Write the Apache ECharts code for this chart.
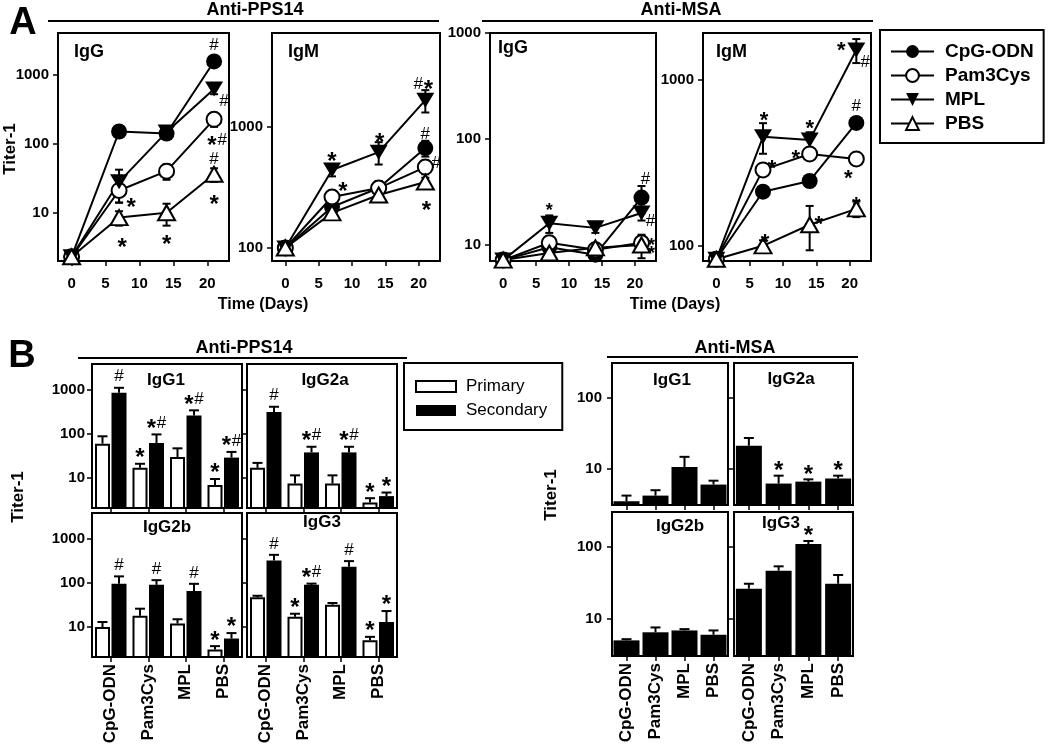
<!DOCTYPE html>
<html>
<head>
<meta charset="utf-8">
<script src="https://cdn.jsdelivr.net/npm/echarts@6.0.0/dist/echarts.min.js"></script>
<style>
html,body{margin:0;padding:0;background:#fff;}
#chart{width:1050px;height:749px;}
</style>
</head>
<body>
<div id="chart"></div>
<script>
// ===================== DATA =====================
const days = [0, 7, 14, 21];
const dayTicks = [0, 5, 10, 15, 20];
const adjuvants = ['CpG-ODN', 'Pam3Cys', 'MPL', 'PBS'];
const logTicks = [10, 100, 1000];

// ---- Panel A: Anti-PPS14 IgG (mean titer, SEM) ----
const ppsIgG_CpG = [2.3, 150, 140, 1550];
const ppsIgG_CpG_sem = [0, 20, 20, 250];
const ppsIgG_Pam = [2.3, 21, 40, 225];
const ppsIgG_Pam_sem = [0, 7, 10, 50];
const ppsIgG_MPL = [2.3, 28, 147, 620];
const ppsIgG_MPL_sem = [0, 14, 20, 100];
const ppsIgG_PBS = [2.3, 8.5, 10, 36];
const ppsIgG_PBS_sem = [0, 2, 3.5, 8];
const ppsIgG_marks = [['CpG-ODN',3,'#'],['MPL',3,'#'],['Pam3Cys',3,'*#'],['PBS',3,'#'],['PBS',3,'*'],['Pam3Cys',1,'*'],['PBS',1,'*'],['PBS',2,'*']];

// ---- Panel A: Anti-PPS14 IgM ----
const ppsIgM_CpG = [100, 218, 313, 670];
const ppsIgM_CpG_sem = [0, 20, 30, 100];
const ppsIgM_Pam = [100, 264, 313, 467];
const ppsIgM_Pam_sem = [0, 25, 45, 60];
const ppsIgM_MPL = [100, 441, 620, 1670];
const ppsIgM_MPL_sem = [0, 50, 130, 350];
const ppsIgM_PBS = [100, 195, 274, 351];
const ppsIgM_PBS_sem = [0, 20, 20, 30];
const ppsIgM_marks = [['MPL',3,'#*'],['CpG-ODN',3,'#'],['Pam3Cys',3,'#'],['PBS',3,'*'],['MPL',1,'*'],['MPL',2,'*'],['Pam3Cys',1,'*']];

// ---- Panel A: Anti-MSA IgG ----
const msaIgG_CpG = [7.2, 9.5, 8.1, 28];
const msaIgG_CpG_sem = [0, 1, 0.8, 8];
const msaIgG_Pam = [7.2, 10.5, 9, 10.5];
const msaIgG_Pam_sem = [0, 1.5, 1, 1.5];
const msaIgG_MPL = [7.2, 16, 14.5, 20];
const msaIgG_MPL_sem = [0, 3, 1.5, 3];
const msaIgG_PBS = [7.2, 8.4, 9.4, 10];
const msaIgG_PBS_sem = [0, 1, 1, 2.5];
const msaIgG_marks = [['MPL',1,'*'],['CpG-ODN',3,'#'],['MPL',3,'#'],['Pam3Cys',3,'*'],['PBS',3,'*']];

// ---- Panel A: Anti-MSA IgM ----
const msaIgM_CpG = [83, 212, 246, 551];
const msaIgM_CpG_sem = [0, 15, 20, 40];
const msaIgM_Pam = [83, 287, 358, 334];
const msaIgM_Pam_sem = [0, 20, 25, 25];
const msaIgM_MPL = [83, 454, 434, 1515];
const msaIgM_MPL_sem = [0, 95, 50, 250];
const msaIgM_PBS = [83, 100, 134, 167];
const msaIgM_PBS_sem = [0, 8, 40, 18];
const msaIgM_marks = [['MPL',1,'*'],['MPL',2,'*'],['MPL',3,'*'],['MPL',3,'#'],['CpG-ODN',3,'#'],['Pam3Cys',1,'*'],['Pam3Cys',2,'*'],['Pam3Cys',3,'*'],['PBS',1,'*'],['PBS',2,'*'],['PBS',3,'*']];

// ---- Panel B: Anti-PPS14 subclasses (primary / secondary) ----
const ppsIgG1_pri = [60, 17, 30, 7];
const ppsIgG1_priSem = [28, 4, 17, 2.5];
const ppsIgG1_sec = [850, 62, 260, 29];
const ppsIgG1_secSem = [250, 35, 80, 10];
const ppsIgG1_priMarks = ['', '*', '', '*'];
const ppsIgG1_secMarks = ['#', '*#', '*#', '*#'];

const ppsIgG2a_pri = [17, 7.5, 7.5, 2.8];
const ppsIgG2a_priSem = [5, 4, 4, 0.7];
const ppsIgG2a_sec = [310, 38, 38, 3.9];
const ppsIgG2a_secSem = [100, 13, 13, 0.8];
const ppsIgG2a_priMarks = ['', '', '', '*'];
const ppsIgG2a_secMarks = ['#', '*#', '*#', '*'];

const ppsIgG2b_pri = [10, 18, 12, 3.1];
const ppsIgG2b_priSem = [3, 8, 3, 0.6];
const ppsIgG2b_sec = [95, 90, 65, 5.5];
const ppsIgG2b_secSem = [45, 25, 30, 1.8];
const ppsIgG2b_priMarks = ['', '', '', '*'];
const ppsIgG2b_secMarks = ['#', '#', '#', '*'];

const ppsIgG3_pri = [47, 17, 32, 5];
const ppsIgG3_priSem = [4, 3, 3, 1];
const ppsIgG3_sec = [320, 90, 230, 13];
const ppsIgG3_secSem = [110, 6, 80, 10];
const ppsIgG3_priMarks = ['', '*', '', '*'];
const ppsIgG3_secMarks = ['#', '*#', '#', '*'];

// ---- Panel B: Anti-MSA subclasses (secondary) ----
const msaIgG1_sec = [3.5, 4.2, 10.6, 6];
const msaIgG1_secSem = [0.7, 0.8, 4.1, 0.8];
const msaIgG1_marks = ['', '', '', ''];
const msaIgG2a_sec = [21, 6.2, 6.6, 7.3];
const msaIgG2a_secSem = [6, 1.8, 0.5, 0.7];
const msaIgG2a_marks = ['', '*', '*', '*'];
const msaIgG2b_sec = [5.1, 6.6, 7, 6.1];
const msaIgG2b_secSem = [0.2, 1.1, 0.3, 0.9];
const msaIgG2b_marks = ['', '', '', ''];
const msaIgG3_sec = [26.5, 47, 110, 31];
const msaIgG3_secSem = [4.5, 7, 11, 10];
const msaIgG3_marks = ['', '', '*', ''];

// ===================== LAYOUT / STYLE =====================
const FONT = "'Liberation Sans', Arial, Helvetica, sans-serif";
const BLACK = '#000';

const symbolStyle = {
  'CpG-ODN': {symbol: 'circle', size: 16, rotate: 0, fill: '#000', border: 0},
  'Pam3Cys': {symbol: 'circle', size: 15, rotate: 0, fill: '#fff', border: 2},
  'MPL': {symbol: 'triangle', size: [18, 15], rotate: 180, fill: '#000', border: 0},
  'PBS': {symbol: 'triangle', size: [17, 15], rotate: 0, fill: '#fff', border: 2}
};

const aPanels = [
  {title: 'IgG', marks: ppsIgG_marks, series: {
    'CpG-ODN': [ppsIgG_CpG, ppsIgG_CpG_sem], 'Pam3Cys': [ppsIgG_Pam, ppsIgG_Pam_sem],
    'MPL': [ppsIgG_MPL, ppsIgG_MPL_sem], 'PBS': [ppsIgG_PBS, ppsIgG_PBS_sem]}},
  {title: 'IgM', marks: ppsIgM_marks, series: {
    'CpG-ODN': [ppsIgM_CpG, ppsIgM_CpG_sem], 'Pam3Cys': [ppsIgM_Pam, ppsIgM_Pam_sem],
    'MPL': [ppsIgM_MPL, ppsIgM_MPL_sem], 'PBS': [ppsIgM_PBS, ppsIgM_PBS_sem]}},
  {title: 'IgG', marks: msaIgG_marks, series: {
    'CpG-ODN': [msaIgG_CpG, msaIgG_CpG_sem], 'Pam3Cys': [msaIgG_Pam, msaIgG_Pam_sem],
    'MPL': [msaIgG_MPL, msaIgG_MPL_sem], 'PBS': [msaIgG_PBS, msaIgG_PBS_sem]}},
  {title: 'IgM', marks: msaIgM_marks, series: {
    'CpG-ODN': [msaIgM_CpG, msaIgM_CpG_sem], 'Pam3Cys': [msaIgM_Pam, msaIgM_Pam_sem],
    'MPL': [msaIgM_MPL, msaIgM_MPL_sem], 'PBS': [msaIgM_PBS, msaIgM_PBS_sem]}}
];
const aLayout = [
  {rect: [58, 33, 171, 228], y: [2, 4000], titleAt: [74, 52], star: 24,
   offsets: [[0,-16],[10,12],[3,21],[0,-15],[0,25],[12,12],[3,25],[0,27]]},
  {rect: [272, 33, 168, 228], y: [78, 6000], titleAt: [288, 52], star: 24,
   offsets: [[-2,-16],[0,-14],[11,-4],[1,24],[0,-13],[1,-15],[11,-10]]},
  {rect: [490, 33, 166, 228], y: [7.06, 1000], titleAt: [498, 48], star: 18,
   offsets: [[0,-17],[4,-18],[9,8],[10,-1],[10,5]]},
  {rect: [703, 33, 168, 228], y: [81, 1920], titleAt: [716, 52], star: 22,
   offsets: [[1,-21],[0,-16],[-15,-4],[9,12],[0,-17],[9,-6],[-14,0],[-8,15],[2,-8],[9,-5],[0,-8]]}
];

const bLeft = [
  {title: 'IgG1', pri: ppsIgG1_pri, priSem: ppsIgG1_priSem, sec: ppsIgG1_sec, secSem: ppsIgG1_secSem, priMarks: ppsIgG1_priMarks, secMarks: ppsIgG1_secMarks},
  {title: 'IgG2a', pri: ppsIgG2a_pri, priSem: ppsIgG2a_priSem, sec: ppsIgG2a_sec, secSem: ppsIgG2a_secSem, priMarks: ppsIgG2a_priMarks, secMarks: ppsIgG2a_secMarks},
  {title: 'IgG2b', pri: ppsIgG2b_pri, priSem: ppsIgG2b_priSem, sec: ppsIgG2b_sec, secSem: ppsIgG2b_secSem, priMarks: ppsIgG2b_priMarks, secMarks: ppsIgG2b_secMarks},
  {title: 'IgG3', pri: ppsIgG3_pri, priSem: ppsIgG3_priSem, sec: ppsIgG3_sec, secSem: ppsIgG3_secSem, priMarks: ppsIgG3_priMarks, secMarks: ppsIgG3_secMarks}
];
const bLeftLayout = [
  {rect: [92, 364, 150, 144], titleAt: [166, 380], yLabels: true, xLabels: false},
  {rect: [247, 364, 150, 144], titleAt: [325, 380], yLabels: false, xLabels: false},
  {rect: [92, 513, 150, 144], titleAt: [167, 527], yLabels: true, xLabels: true},
  {rect: [247, 513, 150, 144], titleAt: [322, 522], yLabels: false, xLabels: true}
];
const bLeftY = [2.1, 3800];

const bRight = [
  {title: 'IgG1', sec: msaIgG1_sec, secSem: msaIgG1_secSem, marks: msaIgG1_marks},
  {title: 'IgG2a', sec: msaIgG2a_sec, secSem: msaIgG2a_secSem, marks: msaIgG2a_marks},
  {title: 'IgG2b', sec: msaIgG2b_sec, secSem: msaIgG2b_secSem, marks: msaIgG2b_marks},
  {title: 'IgG3', sec: msaIgG3_sec, secSem: msaIgG3_secSem, marks: msaIgG3_marks}
];
const bRightLayout = [
  {rect: [612, 363, 116, 142], titleAt: [672, 380], yLabels: true, xLabels: false},
  {rect: [734, 363, 119, 142], titleAt: [791, 379], yLabels: false, xLabels: false},
  {rect: [612, 512, 116, 144], titleAt: [680, 526], yLabels: true, xLabels: true},
  {rect: [734, 512, 119, 144], titleAt: [781, 523], yLabels: false, xLabels: true}
];
const bRightY = [3.1, 305];

// ===================== BUILD =====================
const grids = [], xAxes = [], yAxes = [], series = [], graphics = [];

function isPow10(v) { const l = Math.log10(v); return Math.abs(l - Math.round(l)) < 1e-6; }

function addGrid(r) {
  grids.push({left: r[0], top: r[1], width: r[2], height: r[3], show: true,
    borderColor: BLACK, borderWidth: 2, backgroundColor: 'transparent',
    containLabel: false, outerBoundsMode: 'none'});
  return grids.length - 1;
}
const axisLineStyle = {show: true, onZero: false, lineStyle: {color: BLACK, width: 2}};
const labelFont = {color: BLACK, fontFamily: FONT, fontWeight: 'bold', fontSize: 15};

function addLogY(gi, range, showLabels, margin) {
  yAxes.push({type: 'log', logBase: 10, gridIndex: gi, min: range[0], max: range[1],
    axisLine: axisLineStyle,
    axisTick: {show: true, length: 5, customValues: logTicks, lineStyle: {color: BLACK, width: 1.5}},
    minorTick: {show: false}, splitLine: {show: false}, minorSplitLine: {show: false},
    axisLabel: Object.assign({show: showLabels, margin: margin,
      formatter: v => isPow10(v) ? String(Math.round(v)) : ''}, labelFont)});
}
function addDayX(gi) {
  xAxes.push({type: 'value', gridIndex: gi, min: -2, max: 23.2,
    axisLine: axisLineStyle,
    axisTick: {show: true, length: 5, customValues: dayTicks, lineStyle: {color: BLACK, width: 1.5}},
    splitLine: {show: false},
    axisLabel: Object.assign({customValues: dayTicks, margin: 15,
      formatter: v => (v >= 0 && v % 5 === 0) ? String(v) : ''}, labelFont)});
}
function addCatX(gi, showLabels) {
  xAxes.push({type: 'category', gridIndex: gi, data: adjuvants, boundaryGap: true,
    axisLine: axisLineStyle,
    axisTick: {show: true, alignWithLabel: true, length: 5, lineStyle: {color: BLACK, width: 1.5}},
    splitLine: {show: false},
    axisLabel: {show: showLabels, rotate: 90, margin: 7, interval: 0, color: BLACK,
      fontFamily: FONT, fontWeight: 'bold', fontSize: 17}});
}

function glyphEls(str, cx, cy, starSize, hashSize) {
  const chars = str.split('');
  const adv = chars.map(c => c === '*' ? starSize * 0.42 : hashSize * 0.6);
  const total = adv.reduce((a, b) => a + b, 0);
  let x = cx - total / 2;
  return chars.map((c, i) => {
    const mid = x + adv[i] / 2; x += adv[i];
    const star = c === '*';
    return {type: 'text', x: mid, y: cy + (star ? starSize * 0.24 : 0), silent: true,
      style: {text: c, fill: BLACK, font: (star ? 'bold ' + starSize : 'normal ' + hashSize) + 'px ' + FONT,
        align: 'center', verticalAlign: 'middle', textAlign: 'center', textVerticalAlign: 'middle'}};
  });
}

function errRenderer(half, both) {
  return function (params, api) {
    const x = api.value(0), v = api.value(1), e = api.value(2);
    const off = api.value(3) || 0;
    const top = api.coord([x, v + e]);
    const bot = both ? api.coord([x, Math.max(v - e, v * 0.05)]) : api.coord([x, v]);
    const cx = top[0] + off;
    const st = {stroke: BLACK, lineWidth: 2};
    const ch = [
      {type: 'line', shape: {x1: cx, y1: bot[1], x2: cx, y2: top[1]}, style: st},
      {type: 'line', shape: {x1: cx - half, y1: top[1], x2: cx + half, y2: top[1]}, style: st}
    ];
    if (both) ch.push({type: 'line', shape: {x1: cx - half, y1: bot[1], x2: cx + half, y2: bot[1]}, style: st});
    return {type: 'group', children: ch};
  };
}

function textEl(text, x, y, size, opts) {
  opts = opts || {};
  return {type: 'text', x: x, y: y, rotation: opts.rot || 0, silent: true, z: 100,
    style: {text: text, fill: BLACK, font: (opts.weight || 'bold') + ' ' + size + 'px ' + FONT,
      align: opts.align || 'center', verticalAlign: 'middle'}};
}
function lineEl(x1, y1, x2, y2) {
  return {type: 'line', silent: true, z: 100, shape: {x1, y1, x2, y2}, style: {stroke: BLACK, lineWidth: 2}};
}

// ---- Panel A ----
aPanels.forEach((p, k) => {
  const L = aLayout[k];
  const gi = addGrid(L.rect);
  addDayX(gi);
  addLogY(gi, L.y, true, 9);
  const errData = [];
  adjuvants.forEach(name => {
    const vals = p.series[name][0], sems = p.series[name][1];
    days.forEach((d, i) => { if (sems[i] > 0) errData.push([d, vals[i], sems[i], 0]); });
  });
  series.push({type: 'custom', xAxisIndex: gi, yAxisIndex: gi, z: 2, silent: true,
    data: errData, encode: {x: 0, y: 1}, renderItem: errRenderer(4, true)});
  adjuvants.forEach(name => {
    const s = symbolStyle[name];
    const vals = p.series[name][0];
    series.push({type: 'line', name: name, xAxisIndex: gi, yAxisIndex: gi, z: 3,
      data: days.map((d, i) => [d, vals[i]]), clip: false,
      symbol: s.symbol, symbolSize: s.size, symbolRotate: s.rotate, showAllSymbol: true,
      lineStyle: {color: BLACK, width: 2},
      itemStyle: {color: s.fill, borderColor: BLACK, borderWidth: s.border},
      emphasis: {disabled: true}});
  });
  const markData = p.marks.map(m => { const vals = p.series[m[0]][0]; return [days[m[1]], vals[m[1]]]; });
  series.push({type: 'custom', xAxisIndex: gi, yAxisIndex: gi, z: 5, silent: true,
    data: markData, encode: {x: 0, y: 1},
    renderItem: (params, api) => {
      const pt = api.coord([api.value(0), api.value(1)]);
      const off = L.offsets[params.dataIndex];
      return {type: 'group', children: glyphEls(p.marks[params.dataIndex][2], pt[0] + off[0], pt[1] + off[1], L.star, 17)};
    }});
  graphics.push(textEl(p.title, L.titleAt[0], L.titleAt[1], 18, {align: 'left'}));
});

// ---- Panel B left (Anti-PPS14) ----
const BAR_OFF = 8.25;
bLeft.forEach((p, k) => {
  const L = bLeftLayout[k];
  const gi = addGrid(L.rect);
  addCatX(gi, L.xLabels);
  addLogY(gi, bLeftY, L.yLabels, 7);
  series.push({type: 'bar', name: 'Primary', xAxisIndex: gi, yAxisIndex: gi, data: p.pri,
    barWidth: 15, barGap: '10%', clip: true, z: 2,
    itemStyle: {color: '#fff', borderColor: BLACK, borderWidth: 2}, emphasis: {disabled: true}});
  series.push({type: 'bar', name: 'Secondary', xAxisIndex: gi, yAxisIndex: gi, data: p.sec,
    barWidth: 15, barGap: '10%', clip: true, z: 2,
    itemStyle: {color: BLACK}, emphasis: {disabled: true}});
  const errData = [];
  adjuvants.forEach((c, i) => {
    errData.push([i, p.pri[i], p.priSem[i], -BAR_OFF]);
    errData.push([i, p.sec[i], p.secSem[i], BAR_OFF]);
  });
  series.push({type: 'custom', xAxisIndex: gi, yAxisIndex: gi, z: 3, silent: true,
    data: errData, encode: {x: 0, y: 1}, renderItem: errRenderer(5, false)});
  const markData = [], markText = [];
  adjuvants.forEach((c, i) => {
    if (p.priMarks[i]) { markData.push([i, p.pri[i] + p.priSem[i], -BAR_OFF]); markText.push(p.priMarks[i]); }
    if (p.secMarks[i]) { markData.push([i, p.sec[i] + p.secSem[i], BAR_OFF]); markText.push(p.secMarks[i]); }
  });
  series.push({type: 'custom', xAxisIndex: gi, yAxisIndex: gi, z: 5, silent: true,
    data: markData, encode: {x: 0, y: 1},
    renderItem: (params, api) => {
      const pt = api.coord([api.value(0), api.value(1)]);
      return {type: 'group', children: glyphEls(markText[params.dataIndex], pt[0] + api.value(2), pt[1] - 11, 24, 17)};
    }});
  graphics.push(textEl(p.title, L.titleAt[0], L.titleAt[1], 17));
});

// ---- Panel B right (Anti-MSA) ----
bRight.forEach((p, k) => {
  const L = bRightLayout[k];
  const gi = addGrid(L.rect);
  addCatX(gi, L.xLabels);
  addLogY(gi, bRightY, L.yLabels, 10);
  series.push({type: 'bar', name: 'Secondary', xAxisIndex: gi, yAxisIndex: gi, data: p.sec,
    barWidth: 26, clip: true, z: 2, itemStyle: {color: BLACK}, emphasis: {disabled: true}});
  const errData = adjuvants.map((c, i) => [i, p.sec[i], p.secSem[i], 0]);
  series.push({type: 'custom', xAxisIndex: gi, yAxisIndex: gi, z: 3, silent: true,
    data: errData, encode: {x: 0, y: 1}, renderItem: errRenderer(5, false)});
  const markData = [], markText = [];
  adjuvants.forEach((c, i) => {
    if (p.marks[i]) { markData.push([i, p.sec[i] + p.secSem[i]]); markText.push(p.marks[i]); }
  });
  series.push({type: 'custom', xAxisIndex: gi, yAxisIndex: gi, z: 5, silent: true,
    data: markData, encode: {x: 0, y: 1},
    renderItem: (params, api) => {
      const pt = api.coord([api.value(0), api.value(1)]);
      return {type: 'group', children: glyphEls(markText[params.dataIndex], pt[0], pt[1] - 10, 24, 17)};
    }});
  graphics.push(textEl(p.title, L.titleAt[0], L.titleAt[1], 17));
});

// ---- Static texts & header lines ----
graphics.push(textEl('A', 23, 24, 38));
graphics.push(textEl('B', 22, 357, 38));
graphics.push(textEl('Anti-PPS14', 255, 10, 18));
graphics.push(lineEl(48, 21, 439, 21));
graphics.push(textEl('Anti-MSA', 681, 10, 18));
graphics.push(lineEl(482, 21, 873, 21));
graphics.push(textEl('Titer-1', 10, 149, 17, {rot: Math.PI / 2}));
graphics.push(textEl('Time (Days)', 263, 305, 16));
graphics.push(textEl('Time (Days)', 675, 305, 16));
graphics.push(textEl('Anti-PPS14', 244, 348, 18));
graphics.push(lineEl(78, 358, 407, 358));
graphics.push(textEl('Anti-MSA', 735, 348, 18));
graphics.push(lineEl(607, 357, 858, 357));
graphics.push(textEl('Titer-1', 18, 497, 17, {rot: Math.PI / 2}));
graphics.push(textEl('Titer-1', 551, 495, 17, {rot: Math.PI / 2}));

const option = {
  animation: false,
  backgroundColor: '#fff',
  grid: grids,
  xAxis: xAxes,
  yAxis: yAxes,
  series: series,
  graphic: {elements: graphics},
  legend: [
    {data: adjuvants, orient: 'vertical', left: 880, top: 30, padding: [12, 10, 10, 10],
     itemWidth: 43, itemHeight: 16, itemGap: 5, borderColor: BLACK, borderWidth: 2,
     selectedMode: false, backgroundColor: '#fff',
     textStyle: {fontFamily: FONT, fontWeight: 'bold', fontSize: 19, color: BLACK, padding: [0, 0, 0, 6]}},
    {data: ['Primary', 'Secondary'], orient: 'vertical', left: 404, top: 363, padding: [15, 15, 11, 11],
     itemWidth: 40, itemHeight: 11, itemGap: 7, icon: 'rect', borderColor: BLACK, borderWidth: 2,
     selectedMode: false, backgroundColor: '#fff',
     textStyle: {fontFamily: FONT, fontWeight: 'normal', fontSize: 17, color: BLACK, padding: [0, 0, 0, 5]}}
  ]
};

const chart = echarts.init(document.getElementById('chart'), null, {renderer: 'canvas', width: 1050, height: 749});
chart.setOption(option);
</script>
</body>
</html>
